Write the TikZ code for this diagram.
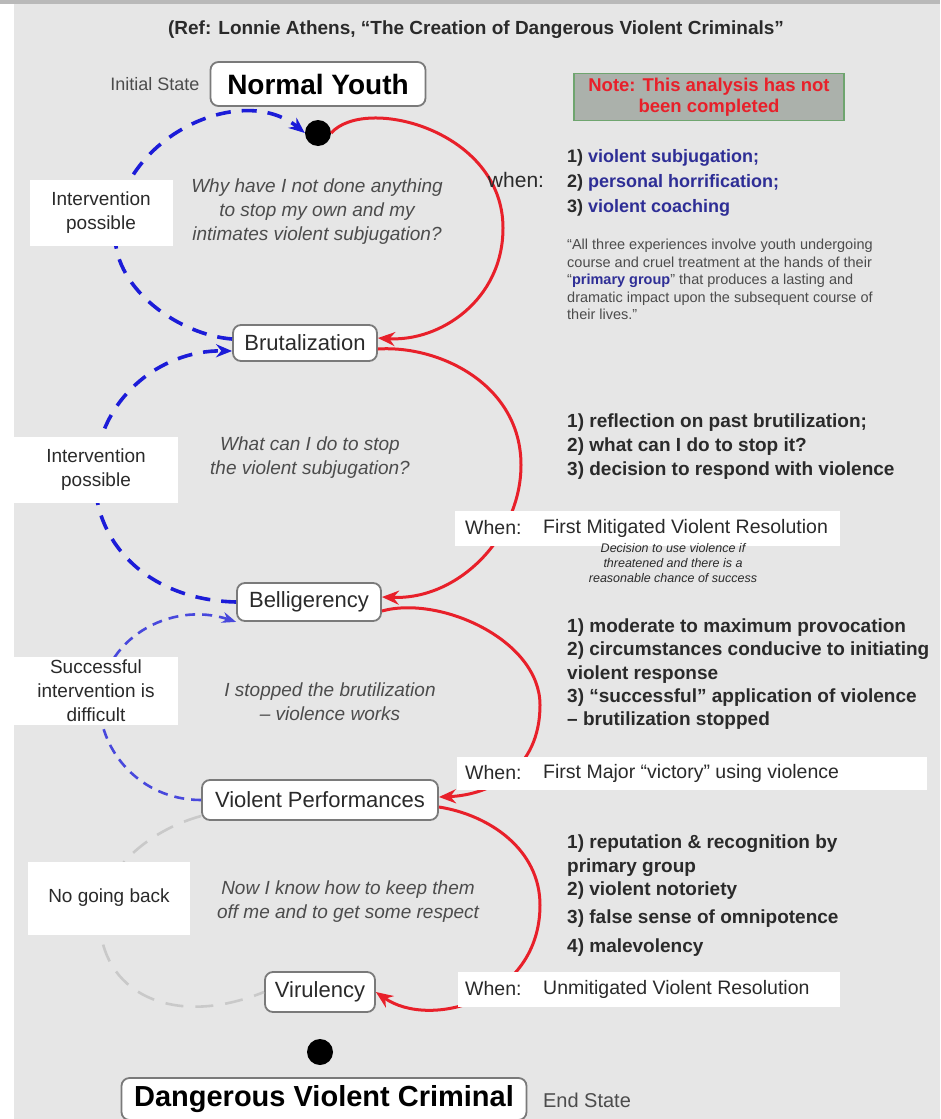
\documentclass[tikz,border=0pt]{standalone}
\usepackage{fontspec}
\setmainfont{Liberation Sans}
\usetikzlibrary{arrows.meta,calc}
\definecolor{bgc}{HTML}{E6E6E6}
\definecolor{redc}{HTML}{E8202A}
\definecolor{bluec}{HTML}{1C1CD8}
\definecolor{bluel}{HTML}{4848DC}
\definecolor{grayd}{HTML}{C9C9C9}
\definecolor{brd}{HTML}{7A7A7A}
\definecolor{txt}{HTML}{2A2A2A}
\definecolor{itc}{HTML}{4C4C4C}
\definecolor{navy}{HTML}{2E2E96}
\definecolor{notef}{HTML}{ABB1AB}
\definecolor{noted}{HTML}{6FA56F}
\definecolor{notet}{HTML}{E8202A}
\begin{document}
\begin{tikzpicture}[x=1pt,y=-1pt,
 state/.style={draw=brd,line width=1.8pt,fill=white,rounded corners=8pt,inner sep=0pt,text=txt,font=\fontsize{22}{26}\selectfont},
 endstate/.style={state,font=\bfseries\fontsize{29}{33}\selectfont,text=black},
 dotc/.style={circle,fill=black,inner sep=0pt,minimum size=26pt},
 wbox/.style={fill=white,inner sep=0pt,text=txt,align=center,font=\fontsize{19}{24}\selectfont},
 quest/.style={text=itc,align=center,inner sep=0pt,font=\itshape\fontsize{19}{24}\selectfont},
 lb/.style={anchor=west,inner sep=0pt,text height=14pt,text depth=4pt,text=txt,font=\bfseries\fontsize{19}{23.5}\selectfont},
 bl/.style={anchor=west,inner sep=0pt,text height=14pt,text depth=4pt,text=navy,font=\bfseries\fontsize{18}{23}\selectfont},
 whentxt/.style={anchor=west,inner sep=0pt,text=txt,font=\fontsize{19.5}{24}\selectfont},
 redarc/.style={draw=redc,line width=3pt,-{Stealth[length=17pt,width=14pt]}},
 bluearc/.style={draw=bluec,line width=3.6pt,dash pattern=on 15pt off 11pt,-{Stealth[length=16pt,width=13pt]}},
 bluelt/.style={draw=bluel,line width=2.6pt,dash pattern=on 10pt off 7pt,-{Stealth[length=14pt,width=11pt]}},
 grayarc/.style={draw=grayd,line width=2.6pt,dash pattern=on 18pt off 12pt},
]
\useasboundingbox (0,0) rectangle (940,1119);
\fill[white] (0,0) rectangle (940,1119);
\fill[bgc] (14,4) rectangle (940,1119);
\fill[gray!55] (0,0) rectangle (940,4);

% title
\node[text=txt,font=\bfseries\fontsize{19}{22}\selectfont] (title) at (476,30) {(Ref: Lonnie Athens, “The Creation of Dangerous Violent Criminals”};

% state nodes
\node[text=itc,font=\fontsize{18}{20}\selectfont] (init) at (155,84) {Initial State};
\node[state,font=\bfseries\fontsize{28}{32}\selectfont,text=black,minimum width=215pt,minimum height=44pt] (ny) at (318,84) {Normal Youth};
\node[dotc] (dot1) at (318,133) {};
\node[state,minimum width=144pt,minimum height=36pt] (brut) at (305,343) {Brutalization};
\node[state,minimum width=144pt,minimum height=38pt] (bell) at (309,602) {Belligerency};
\node[state,minimum width=236pt,minimum height=40pt] (viol) at (320,800) {Violent Performances};
\node[state,minimum width=110pt,minimum height=40pt] (viru) at (320,992) {Virulency};
\node[dotc] (dot2) at (320,1052) {};
\node[endstate,minimum width=405pt,minimum height=42pt] (dvc) at (324,1099) {Dangerous Violent Criminal};
\node[text=itc,font=\fontsize{20}{22}\selectfont] (endst) at (587,1100) {End State};

% note
\node[fill=notef,draw=noted,line width=1.5pt,minimum width=270pt,minimum height=47pt,inner sep=0pt,align=center,text=notet,font=\bfseries\fontsize{18.5}{21}\selectfont] (note) at (709,97) {Note: This analysis has not\\been completed};

% waypoints
\coordinate (r1) at (503,228);
\coordinate (r2) at (521,465);
\coordinate (r3) at (540,705);
\coordinate (r4) at (540,905);
\coordinate (b1) at (115,235);
\coordinate (b2) at (95,478);
\coordinate (b3) at (100,705);
\coordinate (g4) at (100,920);

% red connectors
\draw[redarc] (dot1.east) .. controls (365,95) and (503,130) .. (r1)
   .. controls (503,300) and (440,342) .. ([yshift=5pt]brut.east);
\draw[redarc] ([yshift=-6pt]brut.east) .. controls (440,345) and (521,385) .. (r2)
   .. controls (521,535) and (460,600) .. ([yshift=5pt]bell.east);
\draw[redarc] ([yshift=-9pt]bell.east) .. controls (440,595) and (540,640) .. (r3)
   .. controls (540,770) and (490,795) .. ([yshift=3pt]viol.east);
\draw[redarc] ([yshift=-7pt]viol.east) .. controls (490,815) and (540,850) .. (r4)
   .. controls (540,1000) and (430,1030) .. (viru.east);

% blue / gray connectors
\draw[bluearc] ([yshift=4pt]brut.west) .. controls (180,335) and (115,290) .. (b1)
   .. controls (115,140) and (240,80) .. (dot1.west);
\draw[bluearc] (bell.west) .. controls (150,600) and (95,545) .. (b2)
   .. controls (95,400) and (160,350) .. ([yshift=-8pt]brut.west);
\draw[bluelt] (viol.west) .. controls (140,800) and (100,750) .. (b3)
   .. controls (100,640) and (170,600) .. (bell.south west);
\draw[grayarc] ([yshift=-16pt]viol.west) .. controls (150,830) and (100,870) .. (g4)
   .. controls (100,990) and (170,1030) .. (viru.west);

% left boxes
\node[wbox,minimum width=143pt,minimum height=66pt] (ip1) at (101,213) {Intervention\\possible};
\node[wbox,minimum width=164pt,minimum height=66pt] (ip2) at (96,470) {Intervention\\possible};
\node[wbox,minimum width=164pt,minimum height=68pt] (sid) at (96,691) {Successful\\intervention is\\difficult};
\node[wbox,minimum width=162pt,minimum height=73pt] (ngb) at (109,898) {No going back};

% questions
\node[quest] (q1) at (317,212) {Why have I not done anything\\to stop my own and my\\intimates violent subjugation?};
\node[quest] (q2) at (310,458) {What can I do to stop\\the violent subjugation?};
\node[quest] (q3) at (330,702) {I stopped the brutilization\\– violence works};
\node[quest] (q4) at (348,902) {Now I know how to keep them\\off me and to get some respect};

% when label 1
\node[text=txt,inner sep=0pt,font=\fontsize{21}{24}\selectfont] (when1) at (516,180) {when:};

% blue list
\node[bl] (bl1) at (567,157) {\textcolor{txt}{1)} violent subjugation;};
\node[bl] (bl2) at (567,182) {\textcolor{txt}{2)} personal horrification;};
\node[bl] (bl3) at (567,207) {\textcolor{txt}{3)} violent coaching};

% quote
\node[anchor=north west,inner sep=0pt,align=left,text=itc,font=\fontsize{14.5}{17.5}\selectfont] (quote) at (567,239)
 {“All three experiences involve youth undergoing\\course and cruel treatment at the hands of their\\“\textcolor{navy}{\bfseries primary group}” that produces a lasting and\\dramatic impact upon the subsequent course of\\their lives.”};

% list 2
\node[lb] (l21) at (567,422) {1) reflection on past brutilization;};
\node[lb] (l22) at (567,446) {2) what can I do to stop it?};
\node[lb] (l23) at (567,470) {3) decision to respond with violence};

% when box 2
\node[fill=white,inner sep=0pt,minimum width=385pt,minimum height=35pt] (w2) at (647,528) {};
\node[whentxt] (w2a) at (465,528) {When:};
\node[whentxt] (w2b) at (543,528) {First Mitigated Violent Resolution};
\node[text=txt,align=center,inner sep=0pt,font=\itshape\fontsize{12.5}{15}\selectfont] (w2c) at (673,563) {Decision to use violence if\\threatened and there is a\\reasonable chance of success};

% list 3
\node[lb] (l31) at (567,627) {1) moderate to maximum provocation};
\node[lb] (l32) at (567,650) {2) circumstances conducive to initiating};
\node[lb] (l33) at (567,674) {violent response};
\node[lb] (l34) at (567,697) {3) “successful” application of violence};
\node[lb] (l35) at (567,720) {– brutilization stopped};

% when box 3
\node[fill=white,inner sep=0pt,minimum width=470pt,minimum height=33pt] (w3) at (692,773) {};
\node[whentxt] (w3a) at (465,773) {When:};
\node[whentxt] (w3b) at (543,773) {First Major “victory” using violence};

% list 4
\node[lb] (l41) at (567,843) {1) reputation \& recognition by};
\node[lb] (l42) at (567,867) {primary group};
\node[lb] (l43) at (567,890) {2) violent notoriety};
\node[lb] (l44) at (567,918) {3) false sense of omnipotence};
\node[lb] (l45) at (567,947) {4) malevolency};

% when box 4
\node[fill=white,inner sep=0pt,minimum width=382pt,minimum height=35pt] (w4) at (649,989) {};
\node[whentxt] (w4a) at (465,989) {When:};
\node[whentxt] (w4b) at (543,989) {Unmitigated Violent Resolution};
\end{tikzpicture}
\end{document}
